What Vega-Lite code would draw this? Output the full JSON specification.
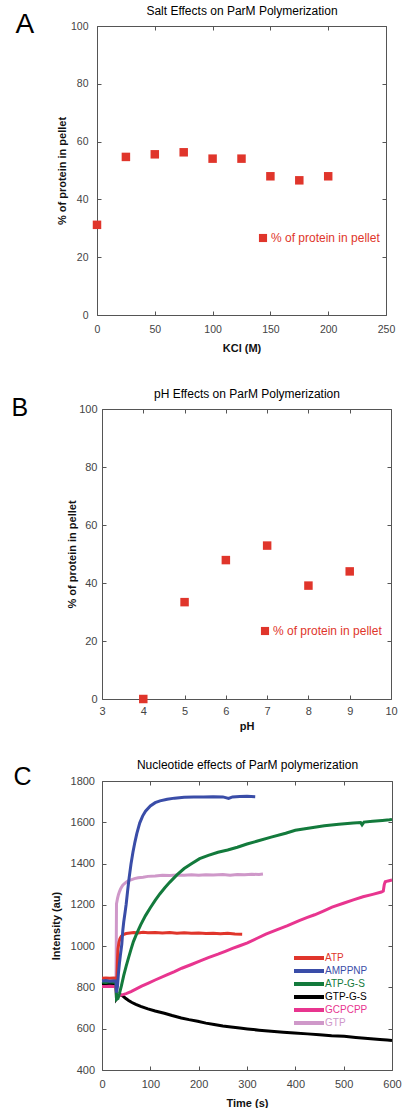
{
  "$schema": "https://vega.github.io/schema/vega-lite/v6.json",
  "background": "white",
  "padding": {"left": 11, "top": 4, "right": 0, "bottom": 0},
  "spacing": 33,
  "resolve": {"scale": {"color": "independent"}, "legend": {"color": "independent"}},
  "vconcat": [
    {
      "width": 289,
      "height": 289,
      "data": {"values": [
        {"kcl": 0, "pct": 31.2, "series": "% of protein in pellet"},
        {"kcl": 25, "pct": 54.7, "series": "% of protein in pellet"},
        {"kcl": 50, "pct": 55.6, "series": "% of protein in pellet"},
        {"kcl": 75, "pct": 56.3, "series": "% of protein in pellet"},
        {"kcl": 100, "pct": 54.1, "series": "% of protein in pellet"},
        {"kcl": 125, "pct": 54.1, "series": "% of protein in pellet"},
        {"kcl": 150, "pct": 48.0, "series": "% of protein in pellet"},
        {"kcl": 175, "pct": 46.6, "series": "% of protein in pellet"},
        {"kcl": 200, "pct": 48.0, "series": "% of protein in pellet"}
      ]},
      "layer": [
        {
          "mark": {"type": "point", "shape": "square", "filled": true, "size": 72, "opacity": 1},
          "encoding": {
            "x": {"field": "kcl", "type": "quantitative", "scale": {"domain": [0, 250], "nice": false, "zero": false, "range": [-5, 284]},
                  "axis": {"orient": "bottom", "values": [0, 50, 100, 150, 200, 250], "title": "KCl (M)", "labelPadding": 13, "titlePadding": 8}},
            "y": {"field": "pct", "type": "quantitative", "scale": {"domain": [0, 100], "nice": false},
                  "axis": {"orient": "left", "values": [0, 20, 40, 60, 80, 100], "title": "% of protein in pellet", "labelPadding": 13, "titlePadding": 3, "offset": 5}},
            "color": {"field": "series", "type": "nominal", "scale": {"range": ["#e0352b"]},
                      "legend": {"orient": "none", "legendX": 155, "legendY": 206, "title": null, "padding": 0, "symbolType": "square", "symbolSize": 66, "labelFontSize": 12, "labelFont": "Liberation Sans", "labelColor": "#e0352b", "labelOffset": 2}}
          }
        },
        {
          "mark": {"type": "point", "opacity": 0},
          "encoding": {
            "x": {"field": "kcl", "type": "quantitative",
                  "axis": {"orient": "top", "values": [0, 50, 100, 150, 200, 250], "labels": false, "title": "Salt Effects on ParM Polymerization", "titleFontSize": 12, "titleFontWeight": "normal", "titleColor": "#000", "titlePadding": 8}},
            "y": {"field": "pct", "type": "quantitative",
                  "axis": {"orient": "right", "values": [0, 20, 40, 60, 80, 100], "labels": false, "offset": -5,
                           "title": "A", "titleAngle": 0, "titleX": -371, "titleY": 6, "titleAlign": "left", "titleBaseline": "alphabetic", "titleFontSize": 28, "titleFontWeight": "normal", "titleColor": "#000"}}
          }
        }
      ],
      "resolve": {"axis": {"x": "independent", "y": "independent"}}
    },
    {
      "spacing": 27,
      "resolve": {"scale": {"color": "independent"}, "legend": {"color": "independent"}},
      "vconcat": [
        {
          "width": 289,
          "height": 290,
          "data": {"values": [
            {"ph": 4, "pct": 0, "series": "% of protein in pellet"},
            {"ph": 5, "pct": 33.4, "series": "% of protein in pellet"},
            {"ph": 6, "pct": 47.9, "series": "% of protein in pellet"},
            {"ph": 7, "pct": 52.9, "series": "% of protein in pellet"},
            {"ph": 8, "pct": 39.1, "series": "% of protein in pellet"},
            {"ph": 9, "pct": 44.0, "series": "% of protein in pellet"}
          ]},
          "layer": [
            {
              "mark": {"type": "point", "shape": "square", "filled": true, "size": 72, "opacity": 1},
              "encoding": {
                "x": {"field": "ph", "type": "quantitative", "scale": {"domain": [3, 10], "nice": false, "zero": false},
                      "axis": {"orient": "bottom", "values": [3, 4, 5, 6, 7, 8, 9, 10], "title": "pH", "labelFontSize": 11, "labelPadding": 10, "titlePadding": 4}},
                "y": {"field": "pct", "type": "quantitative", "scale": {"domain": [0, 100], "nice": false},
                      "axis": {"orient": "left", "values": [0, 20, 40, 60, 80, 100], "title": "% of protein in pellet", "labelFontSize": 11, "labelPadding": 9, "titlePadding": 1}},
                "color": {"field": "series", "type": "nominal", "scale": {"range": ["#e0352b"]},
                          "legend": {"orient": "none", "legendX": 157, "legendY": 216, "title": null, "padding": 0, "symbolType": "square", "symbolSize": 66, "labelFontSize": 12, "labelFont": "Liberation Sans", "labelColor": "#e0352b", "labelOffset": 2}}
              }
            },
            {
              "mark": {"type": "point", "opacity": 0},
              "encoding": {
                "x": {"field": "ph", "type": "quantitative",
                      "axis": {"orient": "top", "values": [3, 4, 5, 6, 7, 8, 9, 10], "labels": false, "title": "pH Effects on ParM Polymerization", "titleFontSize": 12, "titleFontWeight": "normal", "titleColor": "#000", "titlePadding": 8}},
                "y": {"field": "pct", "type": "quantitative",
                      "axis": {"orient": "right", "values": [0, 20, 40, 60, 80, 100], "labels": false,
                               "title": "B", "titleAngle": 0, "titleX": -380, "titleY": 6, "titleAlign": "left", "titleBaseline": "alphabetic", "titleFontSize": 25, "titleFontWeight": "normal", "titleColor": "#000"}}
              }
            }
          ],
          "resolve": {"axis": {"x": "independent", "y": "independent"}}
        },
        {
          "width": 290,
          "height": 289,
          "data": {"values": [
            {"nucleotide": "GTP", "t": 0, "intensity": 812}, {"nucleotide": "GTP", "t": 8, "intensity": 814}, {"nucleotide": "GTP", "t": 16, "intensity": 811}, {"nucleotide": "GTP", "t": 24, "intensity": 813}, {"nucleotide": "GTP", "t": 29, "intensity": 812}, {"nucleotide": "GTP", "t": 30, "intensity": 1205}, {"nucleotide": "GTP", "t": 31, "intensity": 1218}, {"nucleotide": "GTP", "t": 32, "intensity": 1230}, {"nucleotide": "GTP", "t": 34, "intensity": 1249}, {"nucleotide": "GTP", "t": 36, "intensity": 1263}, {"nucleotide": "GTP", "t": 38, "intensity": 1275}, {"nucleotide": "GTP", "t": 40, "intensity": 1284}, {"nucleotide": "GTP", "t": 43, "intensity": 1295}, {"nucleotide": "GTP", "t": 46, "intensity": 1302}, {"nucleotide": "GTP", "t": 50, "intensity": 1310}, {"nucleotide": "GTP", "t": 55, "intensity": 1317}, {"nucleotide": "GTP", "t": 60, "intensity": 1321}, {"nucleotide": "GTP", "t": 67, "intensity": 1327}, {"nucleotide": "GTP", "t": 75, "intensity": 1331}, {"nucleotide": "GTP", "t": 85, "intensity": 1334}, {"nucleotide": "GTP", "t": 95, "intensity": 1338}, {"nucleotide": "GTP", "t": 110, "intensity": 1340}, {"nucleotide": "GTP", "t": 125, "intensity": 1343}, {"nucleotide": "GTP", "t": 140, "intensity": 1342}, {"nucleotide": "GTP", "t": 155, "intensity": 1345}, {"nucleotide": "GTP", "t": 170, "intensity": 1344}, {"nucleotide": "GTP", "t": 185, "intensity": 1346}, {"nucleotide": "GTP", "t": 200, "intensity": 1343}, {"nucleotide": "GTP", "t": 215, "intensity": 1346}, {"nucleotide": "GTP", "t": 230, "intensity": 1345}, {"nucleotide": "GTP", "t": 250, "intensity": 1347}, {"nucleotide": "GTP", "t": 265, "intensity": 1344}, {"nucleotide": "GTP", "t": 280, "intensity": 1347}, {"nucleotide": "GTP", "t": 295, "intensity": 1346}, {"nucleotide": "GTP", "t": 310, "intensity": 1348}, {"nucleotide": "GTP", "t": 325, "intensity": 1347}, {"nucleotide": "GTP", "t": 333, "intensity": 1349},

            {"nucleotide": "ATP", "t": 0, "intensity": 845}, {"nucleotide": "ATP", "t": 8, "intensity": 846}, {"nucleotide": "ATP", "t": 16, "intensity": 844}, {"nucleotide": "ATP", "t": 24, "intensity": 846}, {"nucleotide": "ATP", "t": 29, "intensity": 845}, {"nucleotide": "ATP", "t": 30, "intensity": 778}, {"nucleotide": "ATP", "t": 31, "intensity": 850}, {"nucleotide": "ATP", "t": 32, "intensity": 930}, {"nucleotide": "ATP", "t": 33, "intensity": 985}, {"nucleotide": "ATP", "t": 35, "intensity": 1018}, {"nucleotide": "ATP", "t": 37, "intensity": 1036}, {"nucleotide": "ATP", "t": 40, "intensity": 1048}, {"nucleotide": "ATP", "t": 44, "intensity": 1056}, {"nucleotide": "ATP", "t": 50, "intensity": 1061}, {"nucleotide": "ATP", "t": 58, "intensity": 1064}, {"nucleotide": "ATP", "t": 66, "intensity": 1066}, {"nucleotide": "ATP", "t": 75, "intensity": 1064}, {"nucleotide": "ATP", "t": 85, "intensity": 1067}, {"nucleotide": "ATP", "t": 95, "intensity": 1065}, {"nucleotide": "ATP", "t": 110, "intensity": 1066}, {"nucleotide": "ATP", "t": 125, "intensity": 1064}, {"nucleotide": "ATP", "t": 140, "intensity": 1066}, {"nucleotide": "ATP", "t": 155, "intensity": 1063}, {"nucleotide": "ATP", "t": 170, "intensity": 1065}, {"nucleotide": "ATP", "t": 185, "intensity": 1063}, {"nucleotide": "ATP", "t": 200, "intensity": 1064}, {"nucleotide": "ATP", "t": 215, "intensity": 1061}, {"nucleotide": "ATP", "t": 230, "intensity": 1063}, {"nucleotide": "ATP", "t": 245, "intensity": 1060}, {"nucleotide": "ATP", "t": 260, "intensity": 1062}, {"nucleotide": "ATP", "t": 275, "intensity": 1059}, {"nucleotide": "ATP", "t": 290, "intensity": 1058},

            {"nucleotide": "GTP-G-S", "t": 0, "intensity": 817}, {"nucleotide": "GTP-G-S", "t": 8, "intensity": 818}, {"nucleotide": "GTP-G-S", "t": 16, "intensity": 816}, {"nucleotide": "GTP-G-S", "t": 24, "intensity": 818}, {"nucleotide": "GTP-G-S", "t": 29, "intensity": 817}, {"nucleotide": "GTP-G-S", "t": 30, "intensity": 745}, {"nucleotide": "GTP-G-S", "t": 32, "intensity": 752}, {"nucleotide": "GTP-G-S", "t": 35, "intensity": 760}, {"nucleotide": "GTP-G-S", "t": 38, "intensity": 765}, {"nucleotide": "GTP-G-S", "t": 42, "intensity": 760}, {"nucleotide": "GTP-G-S", "t": 48, "intensity": 749}, {"nucleotide": "GTP-G-S", "t": 55, "intensity": 737}, {"nucleotide": "GTP-G-S", "t": 62, "intensity": 727}, {"nucleotide": "GTP-G-S", "t": 70, "intensity": 718}, {"nucleotide": "GTP-G-S", "t": 80, "intensity": 708}, {"nucleotide": "GTP-G-S", "t": 95, "intensity": 696}, {"nucleotide": "GTP-G-S", "t": 110, "intensity": 686}, {"nucleotide": "GTP-G-S", "t": 129, "intensity": 675}, {"nucleotide": "GTP-G-S", "t": 145, "intensity": 664}, {"nucleotide": "GTP-G-S", "t": 164, "intensity": 652}, {"nucleotide": "GTP-G-S", "t": 180, "intensity": 644}, {"nucleotide": "GTP-G-S", "t": 198, "intensity": 636}, {"nucleotide": "GTP-G-S", "t": 215, "intensity": 627}, {"nucleotide": "GTP-G-S", "t": 232, "intensity": 620}, {"nucleotide": "GTP-G-S", "t": 250, "intensity": 613}, {"nucleotide": "GTP-G-S", "t": 267, "intensity": 608}, {"nucleotide": "GTP-G-S", "t": 285, "intensity": 603}, {"nucleotide": "GTP-G-S", "t": 301, "intensity": 599}, {"nucleotide": "GTP-G-S", "t": 325, "intensity": 593}, {"nucleotide": "GTP-G-S", "t": 350, "intensity": 588}, {"nucleotide": "GTP-G-S", "t": 375, "intensity": 583}, {"nucleotide": "GTP-G-S", "t": 398, "intensity": 579}, {"nucleotide": "GTP-G-S", "t": 425, "intensity": 575}, {"nucleotide": "GTP-G-S", "t": 450, "intensity": 571}, {"nucleotide": "GTP-G-S", "t": 475, "intensity": 566}, {"nucleotide": "GTP-G-S", "t": 501, "intensity": 563}, {"nucleotide": "GTP-G-S", "t": 525, "intensity": 558}, {"nucleotide": "GTP-G-S", "t": 550, "intensity": 553}, {"nucleotide": "GTP-G-S", "t": 575, "intensity": 548}, {"nucleotide": "GTP-G-S", "t": 590, "intensity": 545}, {"nucleotide": "GTP-G-S", "t": 600, "intensity": 543},

            {"nucleotide": "GCPCPP", "t": 0, "intensity": 805}, {"nucleotide": "GCPCPP", "t": 8, "intensity": 804}, {"nucleotide": "GCPCPP", "t": 16, "intensity": 806}, {"nucleotide": "GCPCPP", "t": 24, "intensity": 804}, {"nucleotide": "GCPCPP", "t": 29, "intensity": 805}, {"nucleotide": "GCPCPP", "t": 30, "intensity": 762}, {"nucleotide": "GCPCPP", "t": 35, "intensity": 760}, {"nucleotide": "GCPCPP", "t": 40, "intensity": 763}, {"nucleotide": "GCPCPP", "t": 50, "intensity": 770}, {"nucleotide": "GCPCPP", "t": 60, "intensity": 780}, {"nucleotide": "GCPCPP", "t": 70, "intensity": 792}, {"nucleotide": "GCPCPP", "t": 82, "intensity": 806}, {"nucleotide": "GCPCPP", "t": 95, "intensity": 820}, {"nucleotide": "GCPCPP", "t": 110, "intensity": 836}, {"nucleotide": "GCPCPP", "t": 133, "intensity": 860}, {"nucleotide": "GCPCPP", "t": 150, "intensity": 877}, {"nucleotide": "GCPCPP", "t": 165, "intensity": 893}, {"nucleotide": "GCPCPP", "t": 185, "intensity": 911}, {"nucleotide": "GCPCPP", "t": 202, "intensity": 927}, {"nucleotide": "GCPCPP", "t": 220, "intensity": 944}, {"nucleotide": "GCPCPP", "t": 240, "intensity": 961}, {"nucleotide": "GCPCPP", "t": 255, "intensity": 975}, {"nucleotide": "GCPCPP", "t": 270, "intensity": 989}, {"nucleotide": "GCPCPP", "t": 285, "intensity": 1002}, {"nucleotide": "GCPCPP", "t": 301, "intensity": 1016}, {"nucleotide": "GCPCPP", "t": 320, "intensity": 1037}, {"nucleotide": "GCPCPP", "t": 339, "intensity": 1058}, {"nucleotide": "GCPCPP", "t": 360, "intensity": 1078}, {"nucleotide": "GCPCPP", "t": 384, "intensity": 1099}, {"nucleotide": "GCPCPP", "t": 408, "intensity": 1124}, {"nucleotide": "GCPCPP", "t": 425, "intensity": 1139}, {"nucleotide": "GCPCPP", "t": 440, "intensity": 1152}, {"nucleotide": "GCPCPP", "t": 458, "intensity": 1170}, {"nucleotide": "GCPCPP", "t": 476, "intensity": 1189}, {"nucleotide": "GCPCPP", "t": 501, "intensity": 1209}, {"nucleotide": "GCPCPP", "t": 520, "intensity": 1224}, {"nucleotide": "GCPCPP", "t": 540, "intensity": 1239}, {"nucleotide": "GCPCPP", "t": 560, "intensity": 1251}, {"nucleotide": "GCPCPP", "t": 578, "intensity": 1262}, {"nucleotide": "GCPCPP", "t": 582, "intensity": 1267}, {"nucleotide": "GCPCPP", "t": 584, "intensity": 1298}, {"nucleotide": "GCPCPP", "t": 586, "intensity": 1312}, {"nucleotide": "GCPCPP", "t": 592, "intensity": 1316}, {"nucleotide": "GCPCPP", "t": 600, "intensity": 1320},

            {"nucleotide": "ATP-G-S", "t": 0, "intensity": 826}, {"nucleotide": "ATP-G-S", "t": 8, "intensity": 824}, {"nucleotide": "ATP-G-S", "t": 16, "intensity": 827}, {"nucleotide": "ATP-G-S", "t": 24, "intensity": 825}, {"nucleotide": "ATP-G-S", "t": 29, "intensity": 826}, {"nucleotide": "ATP-G-S", "t": 30, "intensity": 742}, {"nucleotide": "ATP-G-S", "t": 33, "intensity": 746}, {"nucleotide": "ATP-G-S", "t": 36, "intensity": 770}, {"nucleotide": "ATP-G-S", "t": 40, "intensity": 806}, {"nucleotide": "ATP-G-S", "t": 45, "intensity": 858}, {"nucleotide": "ATP-G-S", "t": 50, "intensity": 903}, {"nucleotide": "ATP-G-S", "t": 55, "intensity": 944}, {"nucleotide": "ATP-G-S", "t": 60, "intensity": 984}, {"nucleotide": "ATP-G-S", "t": 65, "intensity": 1022}, {"nucleotide": "ATP-G-S", "t": 72, "intensity": 1062}, {"nucleotide": "ATP-G-S", "t": 80, "intensity": 1103}, {"nucleotide": "ATP-G-S", "t": 90, "intensity": 1148}, {"nucleotide": "ATP-G-S", "t": 100, "intensity": 1186}, {"nucleotide": "ATP-G-S", "t": 110, "intensity": 1222}, {"nucleotide": "ATP-G-S", "t": 120, "intensity": 1254}, {"nucleotide": "ATP-G-S", "t": 130, "intensity": 1283}, {"nucleotide": "ATP-G-S", "t": 140, "intensity": 1309}, {"nucleotide": "ATP-G-S", "t": 155, "intensity": 1345}, {"nucleotide": "ATP-G-S", "t": 170, "intensity": 1376}, {"nucleotide": "ATP-G-S", "t": 185, "intensity": 1399}, {"nucleotide": "ATP-G-S", "t": 202, "intensity": 1424}, {"nucleotide": "ATP-G-S", "t": 220, "intensity": 1440}, {"nucleotide": "ATP-G-S", "t": 240, "intensity": 1455}, {"nucleotide": "ATP-G-S", "t": 260, "intensity": 1466}, {"nucleotide": "ATP-G-S", "t": 280, "intensity": 1479}, {"nucleotide": "ATP-G-S", "t": 300, "intensity": 1495}, {"nucleotide": "ATP-G-S", "t": 320, "intensity": 1508}, {"nucleotide": "ATP-G-S", "t": 350, "intensity": 1528}, {"nucleotide": "ATP-G-S", "t": 380, "intensity": 1547}, {"nucleotide": "ATP-G-S", "t": 400, "intensity": 1561}, {"nucleotide": "ATP-G-S", "t": 430, "intensity": 1572}, {"nucleotide": "ATP-G-S", "t": 460, "intensity": 1583}, {"nucleotide": "ATP-G-S", "t": 490, "intensity": 1591}, {"nucleotide": "ATP-G-S", "t": 520, "intensity": 1596}, {"nucleotide": "ATP-G-S", "t": 535, "intensity": 1599}, {"nucleotide": "ATP-G-S", "t": 538, "intensity": 1588}, {"nucleotide": "ATP-G-S", "t": 542, "intensity": 1601}, {"nucleotide": "ATP-G-S", "t": 560, "intensity": 1605}, {"nucleotide": "ATP-G-S", "t": 580, "intensity": 1609}, {"nucleotide": "ATP-G-S", "t": 595, "intensity": 1612}, {"nucleotide": "ATP-G-S", "t": 600, "intensity": 1614},

            {"nucleotide": "AMPPNP", "t": 0, "intensity": 831}, {"nucleotide": "AMPPNP", "t": 8, "intensity": 833}, {"nucleotide": "AMPPNP", "t": 16, "intensity": 830}, {"nucleotide": "AMPPNP", "t": 24, "intensity": 832}, {"nucleotide": "AMPPNP", "t": 29, "intensity": 831}, {"nucleotide": "AMPPNP", "t": 30, "intensity": 775}, {"nucleotide": "AMPPNP", "t": 32, "intensity": 805}, {"nucleotide": "AMPPNP", "t": 34, "intensity": 868}, {"nucleotide": "AMPPNP", "t": 36, "intensity": 915}, {"nucleotide": "AMPPNP", "t": 38, "intensity": 955}, {"nucleotide": "AMPPNP", "t": 41, "intensity": 1010}, {"nucleotide": "AMPPNP", "t": 43, "intensity": 1075}, {"nucleotide": "AMPPNP", "t": 45, "intensity": 1118}, {"nucleotide": "AMPPNP", "t": 48, "intensity": 1168}, {"nucleotide": "AMPPNP", "t": 50, "intensity": 1203}, {"nucleotide": "AMPPNP", "t": 53, "intensity": 1268}, {"nucleotide": "AMPPNP", "t": 56, "intensity": 1328}, {"nucleotide": "AMPPNP", "t": 60, "intensity": 1398}, {"nucleotide": "AMPPNP", "t": 64, "intensity": 1455}, {"nucleotide": "AMPPNP", "t": 68, "intensity": 1503}, {"nucleotide": "AMPPNP", "t": 72, "intensity": 1545}, {"nucleotide": "AMPPNP", "t": 78, "intensity": 1596}, {"nucleotide": "AMPPNP", "t": 84, "intensity": 1630}, {"nucleotide": "AMPPNP", "t": 90, "intensity": 1654}, {"nucleotide": "AMPPNP", "t": 100, "intensity": 1679}, {"nucleotide": "AMPPNP", "t": 110, "intensity": 1695}, {"nucleotide": "AMPPNP", "t": 120, "intensity": 1704}, {"nucleotide": "AMPPNP", "t": 135, "intensity": 1712}, {"nucleotide": "AMPPNP", "t": 150, "intensity": 1717}, {"nucleotide": "AMPPNP", "t": 170, "intensity": 1721}, {"nucleotide": "AMPPNP", "t": 190, "intensity": 1723}, {"nucleotide": "AMPPNP", "t": 210, "intensity": 1722}, {"nucleotide": "AMPPNP", "t": 230, "intensity": 1724}, {"nucleotide": "AMPPNP", "t": 250, "intensity": 1723}, {"nucleotide": "AMPPNP", "t": 262, "intensity": 1716}, {"nucleotide": "AMPPNP", "t": 270, "intensity": 1723}, {"nucleotide": "AMPPNP", "t": 285, "intensity": 1725}, {"nucleotide": "AMPPNP", "t": 300, "intensity": 1726}, {"nucleotide": "AMPPNP", "t": 317, "intensity": 1724}
          ]},
          "layer": [
            {
              "mark": {"type": "line", "strokeWidth": 3, "interpolate": "linear"},
              "encoding": {
                "x": {"field": "t", "type": "quantitative", "scale": {"domain": [0, 600], "nice": false, "zero": false},
                      "axis": {"orient": "bottom", "values": [0, 100, 200, 300, 400, 500, 600], "title": "Time (s)", "labelFontSize": 11, "labelPadding": 12, "titlePadding": 8}},
                "y": {"field": "intensity", "type": "quantitative", "scale": {"domain": [400, 1800], "nice": false, "zero": false},
                      "axis": {"orient": "left", "values": [400, 600, 800, 1000, 1200, 1400, 1600, 1800], "format": "d", "title": "Intensity (au)", "labelFontSize": 11, "labelPadding": 11.5, "titlePadding": 9}},
                "color": {"field": "nucleotide", "type": "nominal",
                          "scale": {"domain": ["ATP", "AMPPNP", "ATP-G-S", "GTP-G-S", "GCPCPP", "GTP"], "range": ["#e0352b", "#3a4da8", "#137a3c", "#000000", "#e8358f", "#cf98c9"]},
                          "legend": {"orient": "none", "legendX": 202, "legendY": 172, "title": null, "padding": 0, "symbolType": "M-5,0L5,0", "symbolSize": 36, "symbolStrokeWidth": 4, "labelFontSize": 10, "labelFont": "Liberation Sans", "labelOffset": 11, "rowPadding": -6,
                                     "labelColor": {"expr": "datum.label === 'ATP' ? '#e0352b' : datum.label === 'AMPPNP' ? '#3a4da8' : datum.label === 'ATP-G-S' ? '#137a3c' : datum.label === 'GTP-G-S' ? '#000000' : datum.label === 'GCPCPP' ? '#e8358f' : '#cf98c9'"}}}
              }
            },
            {
              "mark": {"type": "point", "opacity": 0},
              "encoding": {
                "x": {"field": "t", "type": "quantitative",
                      "axis": {"orient": "top", "values": [0, 100, 200, 300, 400, 500, 600], "labels": false, "title": "Nucleotide effects of ParM polymerization", "titleFontSize": 12, "titleFontWeight": "normal", "titleColor": "#000", "titlePadding": 9}},
                "y": {"field": "intensity", "type": "quantitative",
                      "axis": {"orient": "right", "values": [400, 600, 800, 1000, 1200, 1400, 1600, 1800], "labels": false,
                               "title": "C", "titleAngle": 0, "titleX": -379, "titleY": 3.5, "titleAlign": "left", "titleBaseline": "alphabetic", "titleFontSize": 25, "titleFontWeight": "normal", "titleColor": "#000"}}
              }
            }
          ],
          "resolve": {"axis": {"x": "independent", "y": "independent"}}
        }
      ]
    }
  ],
  "config": {
    "font": "Liberation Sans",
    "view": {"stroke": null},
    "axis": {
      "grid": false,
      "tickSize": -4,
      "tickColor": "#555",
      "tickWidth": 1,
      "domainColor": "#555",
      "domainWidth": 1,
      "labelColor": "#444",
      "labelFont": "Liberation Sans",
      "labelFontSize": 10.5,
      "labelFlush": false,
      "labelOverlap": false,
      "titleFont": "Liberation Sans",
      "titleFontSize": 11,
      "titleFontWeight": "bold",
      "titleColor": "#111"
    }
  }
}
